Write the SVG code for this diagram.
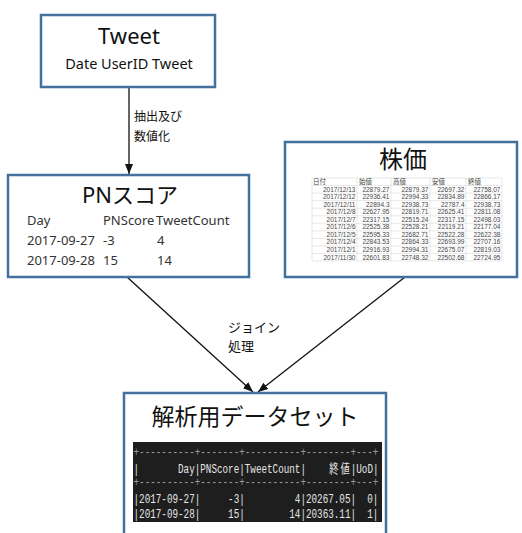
<svg xmlns="http://www.w3.org/2000/svg" width="522" height="533" viewBox="0 0 522 533">
<style>
.box{fill:#fff;stroke:#41719c;stroke-width:2.5}
.t{font-family:"Noto Sans","Noto Sans CJK JP",sans-serif;fill:#111}
.j{font-family:"Noto Sans CJK JP","Noto Sans",sans-serif;fill:#111}
.row{font-family:"Noto Sans","Noto Sans CJK JP",sans-serif;font-size:13px;fill:#333}
.tb{font-family:"Liberation Sans","Noto Sans CJK JP",sans-serif;font-size:6.5px;fill:#444}
.tr{text-anchor:end}
.grid{stroke:#d9d9d9;stroke-width:0.6;fill:none}
.mono{font-family:"Liberation Mono","Noto Sans CJK JP",monospace;font-size:13px;fill:#e6e6e6;white-space:pre}
.dash{fill:#9a9a9a}
.edge{stroke:#111;stroke-width:1.3;fill:none}
</style>
<defs>
<marker id="ah" markerUnits="userSpaceOnUse" markerWidth="10" markerHeight="10" viewBox="0 0 10 10" refX="10" refY="5" orient="auto">
<path d="M0,1 L10,5 L0,9 Z" fill="#111"/>
</marker>
</defs>

<g id="connectors">
<line class="edge" x1="129" y1="87" x2="129" y2="174" marker-end="url(#ah)"/>
<text class="j" font-size="12" x="134" y="121">抽出及び</text>
<text class="j" font-size="12" x="134" y="141">数値化</text>
<line class="edge" x1="127" y1="277" x2="253" y2="392" marker-end="url(#ah)"/>
<line class="edge" x1="405" y1="277" x2="258" y2="392" marker-end="url(#ah)"/>
<text class="j" font-size="13" x="228" y="332">ジョイン</text>
<text class="j" font-size="13" x="228" y="351">処理</text>
</g>

<g id="tweet">
<rect class="box" x="41" y="15" width="174" height="72"/>
<text class="t" font-size="22" x="129" y="44" text-anchor="middle">Tweet</text>
<text class="t" font-size="14.5" x="129" y="69" text-anchor="middle">Date UserID Tweet</text>
</g>

<g id="pnscore">
<rect class="box" x="8" y="175" width="241" height="102"/>
<text class="t" font-size="22" x="130" y="203" text-anchor="middle">PNスコア</text>
<text class="row" x="27" y="225">Day</text>
<text class="row" x="103" y="225">PNScore</text>
<text class="row" x="156" y="225">TweetCount</text>
<text class="row" x="27" y="245">2017-09-27</text>
<text class="row" x="103" y="245">-3</text>
<text class="row" x="157" y="245">4</text>
<text class="row" x="27" y="265">2017-09-28</text>
<text class="row" x="103" y="265">15</text>
<text class="row" x="157" y="265">14</text>
</g>

<g id="kabuka">
<rect class="box" x="285" y="142" width="232" height="135"/>
<text class="j" font-size="24" x="403" y="168" text-anchor="middle">株価</text>
<path class="grid" d="M312,178V261M357,178V261M391,178V261M430,178V261M466,178V261M502,178V261
M312,178H502M312,185.5H502M312,193.1H502M312,200.6H502M312,208.2H502M312,215.8H502M312,223.3H502M312,230.9H502M312,238.4H502M312,246H502M312,253.5H502M312,261H502"/>
<g class="tb">
<text x="313" y="184">日付</text><text x="359" y="184">始値</text><text x="393" y="184">高値</text><text x="432" y="184">安値</text><text x="468" y="184">終値</text>
<g class="tr">
<text x="355.5" y="191.6">2017/12/13</text><text x="389.5" y="191.6">22879.27</text><text x="428.5" y="191.6">22879.37</text><text x="464.5" y="191.6">22697.32</text><text x="500.5" y="191.6">22758.07</text>
<text x="355.5" y="199.1">2017/12/12</text><text x="389.5" y="199.1">22936.41</text><text x="428.5" y="199.1">22994.33</text><text x="464.5" y="199.1">22834.89</text><text x="500.5" y="199.1">22866.17</text>
<text x="355.5" y="206.7">2017/12/11</text><text x="389.5" y="206.7">22894.3</text><text x="428.5" y="206.7">22938.73</text><text x="464.5" y="206.7">22787.4</text><text x="500.5" y="206.7">22938.73</text>
<text x="355.5" y="214.2">2017/12/8</text><text x="389.5" y="214.2">22627.95</text><text x="428.5" y="214.2">22819.71</text><text x="464.5" y="214.2">22625.41</text><text x="500.5" y="214.2">22811.08</text>
<text x="355.5" y="221.8">2017/12/7</text><text x="389.5" y="221.8">22317.15</text><text x="428.5" y="221.8">22515.24</text><text x="464.5" y="221.8">22317.15</text><text x="500.5" y="221.8">22498.03</text>
<text x="355.5" y="229.3">2017/12/6</text><text x="389.5" y="229.3">22525.38</text><text x="428.5" y="229.3">22528.21</text><text x="464.5" y="229.3">22119.21</text><text x="500.5" y="229.3">22177.04</text>
<text x="355.5" y="236.9">2017/12/5</text><text x="389.5" y="236.9">22595.33</text><text x="428.5" y="236.9">22682.71</text><text x="464.5" y="236.9">22522.28</text><text x="500.5" y="236.9">22622.38</text>
<text x="355.5" y="244.4">2017/12/4</text><text x="389.5" y="244.4">22843.53</text><text x="428.5" y="244.4">22864.33</text><text x="464.5" y="244.4">22693.99</text><text x="500.5" y="244.4">22707.16</text>
<text x="355.5" y="252">2017/12/1</text><text x="389.5" y="252">22916.93</text><text x="428.5" y="252">22994.31</text><text x="464.5" y="252">22675.07</text><text x="500.5" y="252">22819.03</text>
<text x="355.5" y="259.5">2017/11/30</text><text x="389.5" y="259.5">22601.83</text><text x="428.5" y="259.5">22748.32</text><text x="464.5" y="259.5">22502.68</text><text x="500.5" y="259.5">22724.95</text>
</g>
</g>
</g>

<g id="dataset">
<rect class="box" x="124" y="393" width="262" height="150"/>
<text class="j" font-size="23" x="255" y="425" text-anchor="middle">解析用データセット</text>
<rect x="133" y="442" width="249" height="80" fill="#1e1e1e"/>
<g transform="translate(133.5,0) scale(0.714,1)">
<text class="mono dash" x="0" y="456">+----------+-------+----------+--------+---+</text>
<text class="mono" y="473"><tspan x="0">|       Day|PNScore|TweetCount|    </tspan><tspan x="274.3">終</tspan><tspan x="289.9">値</tspan><tspan x="304.2">|UoD|</tspan></text>
<text class="mono dash" x="0" y="486">+----------+-------+----------+--------+---+</text>
<text class="mono" x="0" y="503">|2017-09-27|     -3|         4|20267.05|  0|</text>
<text class="mono" x="0" y="518">|2017-09-28|     15|        14|20363.11|  1|</text>
</g>
</g>
</svg>
